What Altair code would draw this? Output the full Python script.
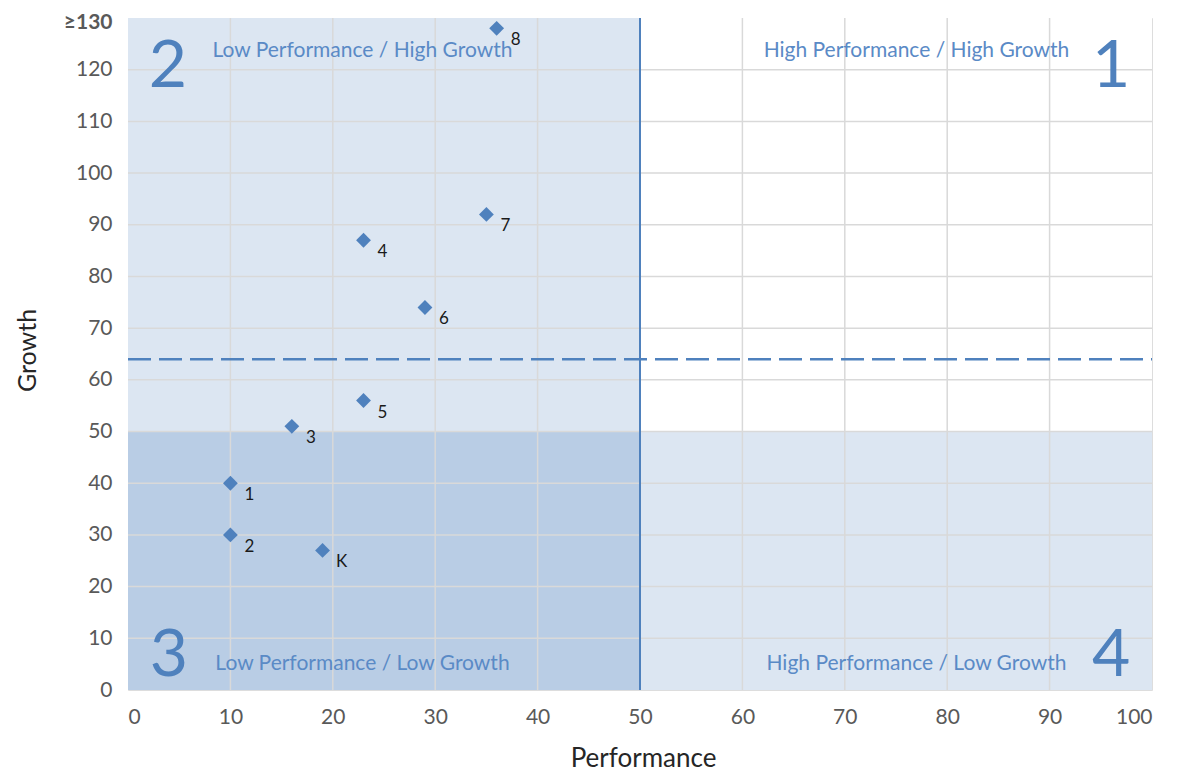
import altair as alt
import pandas as pd

# ---- data ----
point_ids = ["1", "2", "K", "3", "5", "6", "4", "7", "8"]
performance = [10, 10, 19, 16, 23, 29, 23, 35, 36]
growth = [40, 30, 27, 51, 56, 74, 87, 92, 128]

x_ticks = [0, 10, 20, 30, 40, 50, 60, 70, 80, 90, 100]
y_ticks = [0, 10, 20, 30, 40, 50, 60, 70, 80, 90, 100, 110, 120, 130]
x_grid = [10, 20, 30, 40, 60, 70, 80, 90]
y_grid = [10, 20, 30, 40, 50, 60, 70, 80, 90, 100, 110, 120]

# quadrants (data extents)
quad_x = [0, 50, 0, 50]
quad_x2 = [50, 100, 50, 100]
quad_y = [50, 50, 0, 0]
quad_y2 = [130, 130, 50, 50]
quad_fill = ["#DCE6F2", "#FFFFFF", "#B9CDE5", "#DCE6F2"]

split_x = 50
threshold_y = 64

quad_numbers = ["2", "1", "3", "4"]
quad_num_x = [3.9, 96, 4.0, 96]
quad_num_y = [120.5, 120.5, 6.6, 6.6]

quad_labels = ["Low Performance / High Growth", "High Performance / High Growth",
               "Low Performance / Low Growth", "High Performance / Low Growth"]
quad_lab_x = [22.9, 77.0, 22.9, 77.0]
quad_lab_y = [123.6, 123.6, 5.0, 5.0]

FONT = "Lato"
BLUE = "#4F81BD"

pts = pd.DataFrame({"id": point_ids, "x": performance, "y": growth})
quads = pd.DataFrame({"x": quad_x, "x2": quad_x2, "y": quad_y, "y2": quad_y2, "fill": quad_fill})
gx = pd.DataFrame({"x": x_grid})
gy = pd.DataFrame({"y": y_grid})
nums = pd.DataFrame({"t": quad_numbers, "x": quad_num_x, "y": quad_num_y})
labs = pd.DataFrame({"t": quad_labels, "x": quad_lab_x, "y": quad_lab_y})
vline = pd.DataFrame({"x": [split_x]})
hline = pd.DataFrame({"y": [threshold_y], "x0": [0], "x1": [100]})

xscale = alt.Scale(domain=[0, 100], nice=False, zero=False)
yscale = alt.Scale(domain=[0, 130], nice=False, zero=False)

xaxis = alt.Axis(values=x_ticks, grid=False, ticks=False, domain=False,
                 labelFont=FONT, labelFontSize=21, labelColor="#595959",
                 labelPadding=16, title="Performance", titleFont=FONT,
                 titleFontSize=26, titleFontWeight="normal", titleColor="#262626",
                 titleX=515, titleY=76, titleBaseline="alphabetic")
yaxis = alt.Axis(values=y_ticks, grid=False, ticks=False, domain=False,
                 labelFont=FONT, labelFontSize=21, labelColor="#595959",
                 labelPadding=16,
                 labelExpr="datum.value == 130 ? '≥130' : datum.label",
                 labelFontWeight=alt.ExprRef("datum.value == 130 ? 'bold' : 'normal'"),
                 labelOffset=alt.ExprRef("datum.value == 130 ? 4 : 0"),
                 title="Growth", titleFont=FONT, titleFontSize=25,
                 titleFontWeight="normal", titleColor="#262626",
                 titleAngle=270, titleX=-93, titleY=332, titleBaseline="alphabetic")


def X(field):
    return alt.X(field, type="quantitative", scale=xscale, axis=xaxis)


def Y(field):
    return alt.Y(field, type="quantitative", scale=yscale, axis=yaxis)


rects = alt.Chart(quads).mark_rect(strokeWidth=0).encode(
    x=X("x"), x2="x2", y=Y("y"), y2="y2",
    color=alt.Color("fill:N", scale=None),
)

grid_v = alt.Chart(gx).mark_rule(color="#D9D9D9", strokeWidth=1.5).encode(x=X("x"))
grid_h = alt.Chart(gy).mark_rule(color="#D9D9D9", strokeWidth=1.5).encode(y=Y("y"))

split = alt.Chart(vline).mark_rule(color=BLUE, strokeWidth=2).encode(x=X("x"))

dash = alt.Chart(hline).mark_rule(color=BLUE, strokeWidth=2.5, strokeDash=[23, 8]).encode(
    x=X("x0"), x2="x1", y=Y("y")
)

big = alt.Chart(nums).mark_text(font=FONT, fontSize=66, color=BLUE, baseline="middle",
                                align="center").encode(x=X("x"), y=Y("y"), text="t:N")

qlab = alt.Chart(labs).mark_text(font=FONT, fontSize=21, color="#5A8AC6", baseline="middle",
                                 align="center").encode(x=X("x"), y=Y("y"), text="t:N")

points = alt.Chart(pts).mark_point(shape="diamond", filled=True, size=220, color=BLUE,
                                   opacity=1).encode(x=X("x"), y=Y("y"))

plabels = alt.Chart(pts).mark_text(font=FONT, fontSize=17, color="#1a1a1a", dx=19, dy=12,
                                   align="center", baseline="middle").encode(
    x=X("x"), y=Y("y"), text="id:N")

chart = alt.layer(rects, grid_v, grid_h, split, dash, big, qlab, points, plabels).properties(
    width=1024, height=672,
    autosize=alt.AutoSizeParams(type="none"),
    padding={"left": 120, "top": 10, "right": 20, "bottom": 84},
).configure_view(stroke="#BFBFBF", strokeWidth=1.5).configure(background="white")

chart.save("out.html", embed_options={"renderer": "svg", "actions": False})
